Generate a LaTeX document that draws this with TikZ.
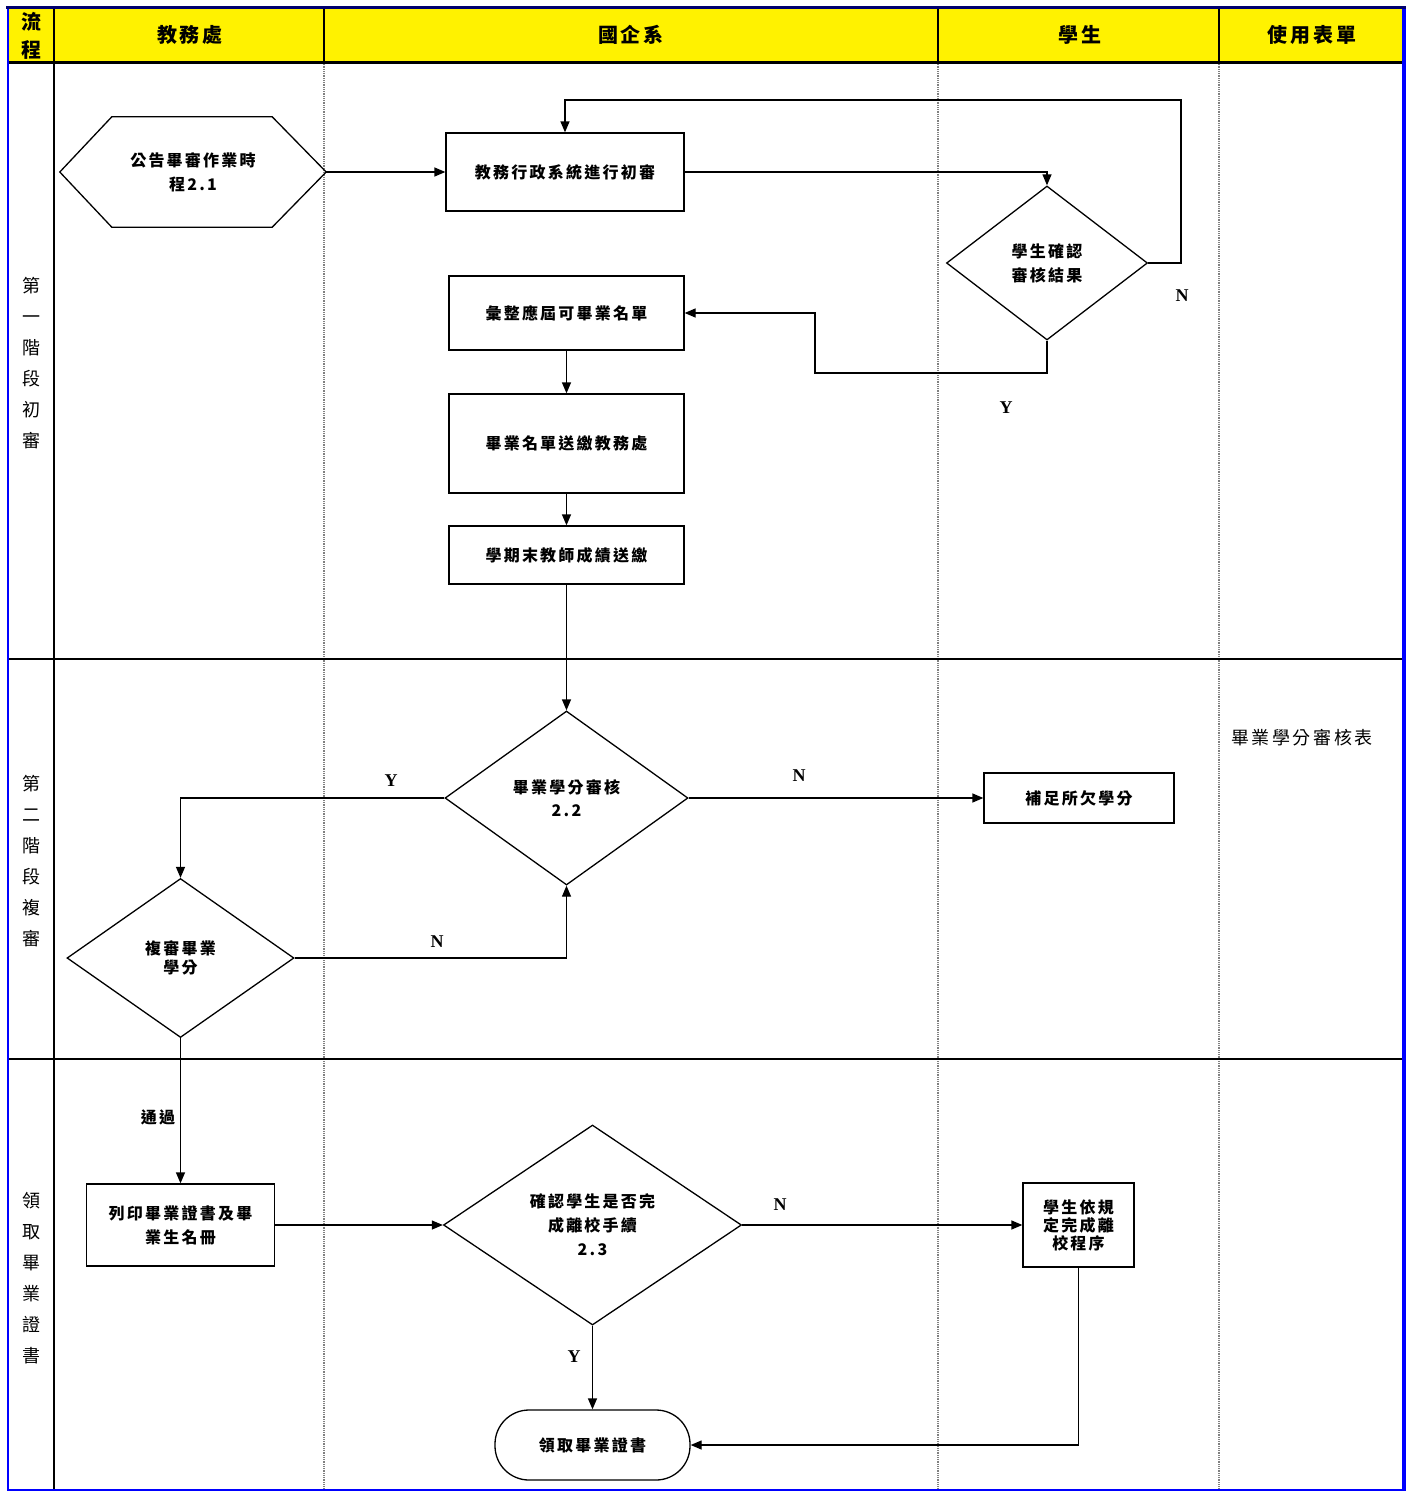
\documentclass[tikz,border=0pt]{standalone}
\usepackage{fontspec}
\setmainfont{Noto Sans CJK TC}
\newfontfamily\cjksp[LetterSpace=14]{Noto Sans CJK TC}
\newfontfamily\latinf{Liberation Serif}
\usetikzlibrary{arrows.meta,shapes.geometric}
\definecolor{navy}{RGB}{0,0,110}
\tikzset{
  nodetext/.style={font=\cjksp\bfseries\fontsize{16}{24}\selectfont},
  box/.style={draw, rectangle, line width=1.3pt, inner sep=0pt, align=center, nodetext},
  dia/.style={draw, diamond, line width=1.3pt, inner sep=0pt, align=center, nodetext},
  arr/.style={line width=1.3pt, -{Triangle[length=11pt,width=9pt]}},
  yn/.style={font=\latinf\bfseries\fontsize{18}{20}\selectfont},
  sidelbl/.style={align=center, inner sep=0pt, font=\fontsize{18}{31}\selectfont},
  hdr/.style={font=\cjksp\bfseries\fontsize{20}{28}\selectfont, align=center, inner sep=0pt},
  sep/.style={black!50, line width=2pt, dash pattern=on 1pt off 0.8pt},
}
\begin{document}
\begin{tikzpicture}[x=1pt,y=-1pt]
\useasboundingbox (0,0) rectangle (1411,1491);
% header background
\fill[yellow] (8,8) rectangle (1404,62);
% column separators
\draw[sep] (324,62) -- (324,1490);
\draw[sep] (938,62) -- (938,1490);
\draw[sep] (1219,62) -- (1219,1490);
\draw[line width=1.5pt] (54,8) -- (54,1490);
\draw[line width=2pt] (324,8) -- (324,62);
\draw[line width=2pt] (938,8) -- (938,62);
\draw[line width=2pt] (1219,8) -- (1219,62);
% row separators
\draw[line width=3pt] (8,62) -- (1404,62);
\draw[line width=2.5pt] (8,659) -- (1404,659);
\draw[line width=2.5pt] (8,1059) -- (1404,1059);
% outer border
\draw[blue, line width=2pt] (8,7) rectangle (1404,1490);
\draw[blue, line width=4pt] (1404,6) -- (1404,1491);
\draw[navy, line width=3pt] (6,7) -- (1406,7);

% header texts
\node[hdr] (h0) at (31,36) {流\\程};
\node[hdr] (h1) at (190,35) {教務處};
\node[hdr] (h2) at (631,35) {國企系};
\node[hdr] (h3) at (1080,35) {學生};
\node[hdr] (h4) at (1312,35) {使用表單};

% stage labels
\node[sidelbl] (s1) at (31,363) {第\\一\\階\\段\\初\\審};
\node[sidelbl] (s2) at (31,861) {第\\二\\階\\段\\複\\審};
\node[sidelbl] (s3) at (31,1278) {領\\取\\畢\\業\\證\\書};

% form column
\node[font=\cjksp\fontsize{18}{20}\selectfont, inner sep=0pt] (form) at (1302,738) {畢業學分審核表};

% nodes
\node[rectangle, minimum width=266pt, minimum height=110pt, inner sep=0pt, align=center, nodetext] (hex) at (193,172) {公告畢審作業時\\程2.1};
\draw[line width=1.3pt] (hex.west) -- ([xshift=52pt]hex.north west) -- ([xshift=-54pt]hex.north east) -- (hex.east) -- ([xshift=-54pt]hex.south east) -- ([xshift=52pt]hex.south west) -- cycle;

\node[box, minimum width=238pt, minimum height=78pt] (b1) at (565,172) {教務行政系統進行初審};
\node[dia, minimum width=201pt, minimum height=154pt] (d1) at (1047,263) {學生確認\\審核結果};
\node[box, minimum width=235pt, minimum height=74pt] (b2) at (566.5,313) {彙整應屆可畢業名單};
\node[box, minimum width=235pt, minimum height=99pt] (b3) at (566.5,443.5) {畢業名單送繳教務處};
\node[box, minimum width=235pt, minimum height=58pt] (b4) at (566.5,555) {學期末教師成績送繳};
\node[dia, minimum width=243pt, minimum height=174pt, font=\cjksp\bfseries\fontsize{16}{23}\selectfont] (d2) at (566.5,798) {畢業學分審核\\2.2};
\node[box, minimum width=190pt, minimum height=50pt] (b5) at (1079,798) {補足所欠學分};
\node[dia, minimum width=227pt, minimum height=159pt, font=\cjksp\bfseries\fontsize{16}{19}\selectfont] (d3) at (180.5,958) {複審畢業\\學分};
\node[box, minimum width=188pt, minimum height=82pt] (b6) at (180.5,1225) {列印畢業證書及畢\\業生名冊};
\node[dia, minimum width=298pt, minimum height=200pt] (d4) at (592.5,1225) {確認學生是否完\\成離校手續\\2.3};
\node[box, minimum width=111pt, minimum height=84pt, font=\cjksp\bfseries\fontsize{16}{18}\selectfont] (b7) at (1078.5,1225) {學生依規\\定完成離\\校程序};
\node[box, rounded corners=34pt, minimum width=195pt, minimum height=70pt] (t) at (592.5,1445) {領取畢業證書};

% helper coordinates
\coordinate (c3) at (1181,100);
\coordinate (c4) at (815,373);

% connectors
\draw[arr] (hex.east) -- (b1.west);
\draw[arr] (b1.east) -| (d1.north);
\draw[arr] (d1.east) -| (c3) -| (b1.north);
\draw[arr] (d1.south) |- (c4) |- (b2.east);
\draw[arr] (b2.south) -- (b3.north);
\draw[arr] (b3.south) -- (b4.north);
\draw[arr] (b4.south) -- (d2.north);
\draw[arr] (d2.west) -| (d3.north);
\draw[arr] (d2.east) -- (b5.west);
\draw[arr] (d3.east) -| (d2.south);
\draw[arr] (d3.south) -- (b6.north);
\draw[arr] (b6.east) -- (d4.west);
\draw[arr] (d4.east) -- (b7.west);
\draw[arr] (d4.south) -- (t.north);
\draw[arr] (b7.south) |- (t.east);

% connector labels
\node[yn] (l1) at (1182,296) {N};
\node[yn] (l2) at (1006,408) {Y};
\node[yn] (l3) at (391,781) {Y};
\node[yn] (l4) at (799,776) {N};
\node[yn] (l5) at (437,942) {N};
\node[font=\cjksp\bfseries\fontsize{16}{18}\selectfont] (l6) at (158,1117) {通過};
\node[yn] (l7) at (780,1205) {N};
\node[yn] (l8) at (574,1357) {Y};
\end{tikzpicture}
\end{document}
